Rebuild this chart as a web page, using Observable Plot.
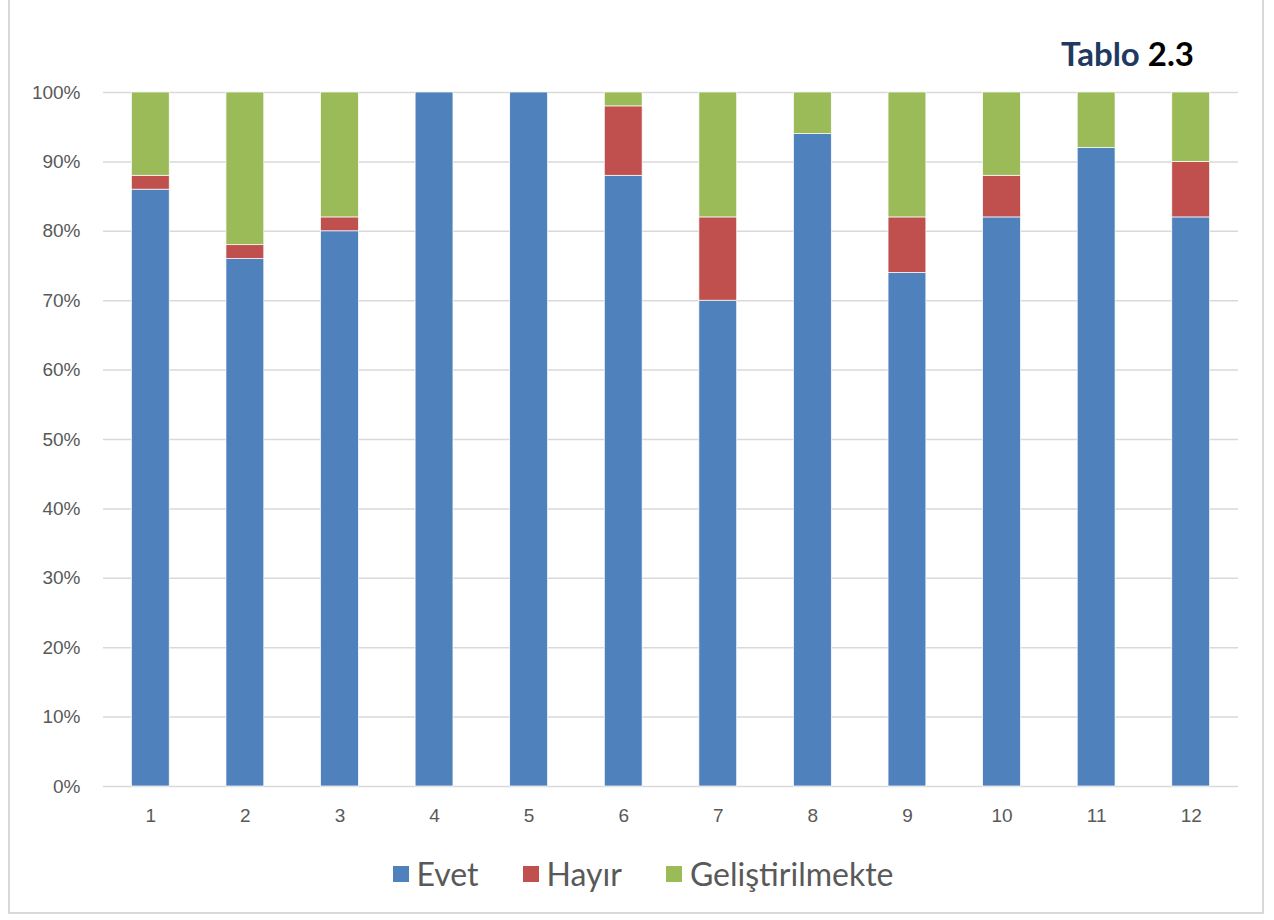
<!DOCTYPE html>
<html>
<head>
<meta charset="utf-8">
<script src="https://cdn.jsdelivr.net/npm/d3@7"></script>
<script src="https://cdn.jsdelivr.net/npm/@observablehq/plot@0.6"></script>
<style>
  html, body { margin: 0; padding: 0; background: #fff; }
  #frame {
    position: absolute; left: 8px; top: -2px; width: 1256px; height: 916px;
    border: 2px solid #d9d9d9; box-sizing: border-box;
  }
  #chart { position: absolute; left: 0; top: 0; }
  #title {
    position: absolute; left: 1061px; top: 37px;
    font-family: "Lato", "DejaVu Sans", sans-serif; font-weight: 700; font-size: 33px;
    color: #000; white-space: nowrap; line-height: 1;
  }
  #title .t { color: #1f3a60; }
  #legend {
    position: absolute; left: 0; top: 854px; width: 1274px;
    display: flex; justify-content: center; align-items: center; gap: 0;
    font-family: "Lato", "DejaVu Sans", sans-serif; font-size: 32px; color: #595959;
    transform: translateX(6px);
  }
  #legend .item { display: flex; align-items: center; margin: 0 22px; }
  #legend .sw { width: 16px; height: 16px; margin-right: 8px; }
</style>
</head>
<body>
<div id="frame"></div>
<div id="chart"></div>
<div id="title"><span class="t">Tablo</span> 2.3</div>
<div id="legend"></div>
<script>
// Survey responses per item (percent of respondents)
const categories = ["1", "2", "3", "4", "5", "6", "7", "8", "9", "10", "11", "12"];
const evet = [86, 76, 80, 100, 100, 88, 70, 94, 74, 82, 92, 82];
const hayir = [2, 2, 2, 0, 0, 10, 12, 0, 8, 6, 0, 8];
const gelistirilmekte = [12, 22, 18, 0, 0, 2, 18, 6, 18, 12, 8, 10];
const seriesNames = ["Evet", "Hayır", "Geliştirilmekte"];
const seriesColors = ["#4f81bd", "#c0504d", "#9bbb59"];
const yTicks = [0, 10, 20, 30, 40, 50, 60, 70, 80, 90, 100];

const seriesValues = [evet, hayir, gelistirilmekte];
const rows = [];
seriesNames.forEach((s, i) => {
  categories.forEach((c, j) => rows.push({category: c, series: s, value: seriesValues[i][j]}));
});

const chart = Plot.plot({
  width: 1274,
  height: 830,
  marginLeft: 103,
  marginRight: 36,
  marginTop: 92,
  marginBottom: 44,
  style: {fontFamily: "'Liberation Sans', 'DejaVu Sans', sans-serif", fontSize: "19px", color: "#595959", background: "transparent"},
  x: {domain: categories, paddingInner: 0.6, paddingOuter: 0.3, round: false, label: null, tickSize: 0, tickPadding: 22},
  y: {domain: [0, 100], ticks: yTicks, tickFormat: d => d + "%", label: null, tickSize: 0, tickPadding: 23},
  color: {domain: seriesNames, range: seriesColors},
  marks: [
    Plot.gridY(yTicks, {stroke: "#d9d9d9", strokeOpacity: 1, strokeWidth: 1.5}),
    Plot.barY(rows, Plot.stackY({
      x: "category",
      y: "value",
      z: "series",
      fill: "series",
      order: seriesNames,
      stroke: "#ffffff",
      strokeWidth: 0.7,
      filter: d => d.value > 0
    }))
  ]
});
document.getElementById("chart").appendChild(chart);

const legend = document.getElementById("legend");
seriesNames.forEach((s, i) => {
  const item = document.createElement("div");
  item.className = "item";
  const sw = document.createElement("div");
  sw.className = "sw";
  sw.style.background = seriesColors[i];
  const label = document.createElement("span");
  label.textContent = s;
  item.appendChild(sw);
  item.appendChild(label);
  legend.appendChild(item);
});
</script>
</body>
</html>
